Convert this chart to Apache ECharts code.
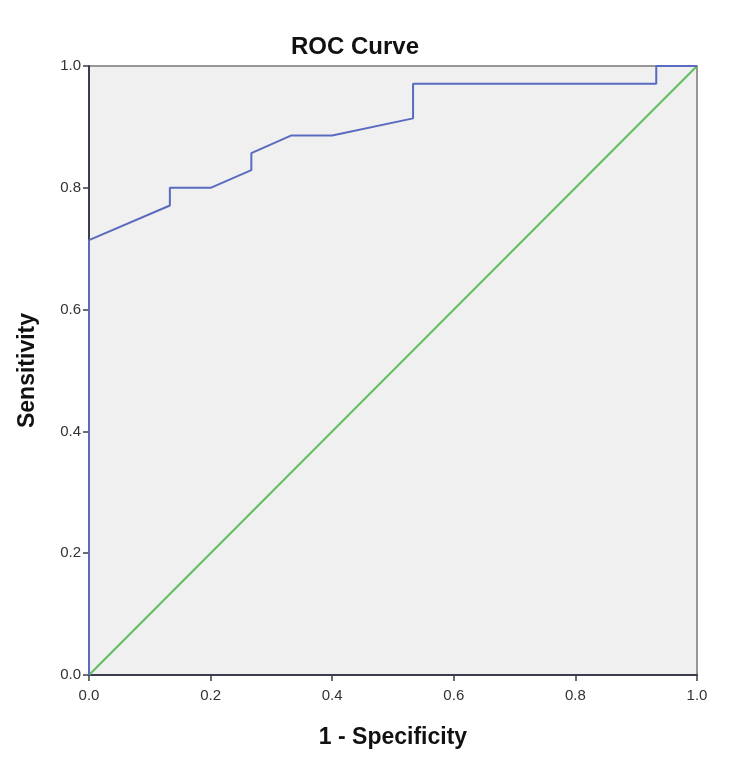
<!DOCTYPE html>
<html>
<head>
<meta charset="utf-8">
<script src="https://cdn.jsdelivr.net/npm/echarts@6/dist/echarts.min.js"></script>
<style>
  html, body { margin: 0; padding: 0; background: #fff; }
  #chart { width: 750px; height: 767px; }
</style>
</head>
<body>
<div id="chart"></div>
<script>
// ROC points (1 - specificity, sensitivity)
var fpr = [0.0, 0.0, 0.133, 0.133, 0.2, 0.267, 0.267, 0.333, 0.4, 0.533, 0.533, 0.933, 0.933, 1.0];
var tpr = [0.0, 0.714, 0.771, 0.8, 0.8, 0.829, 0.857, 0.886, 0.886, 0.914, 0.971, 0.971, 1.0, 1.0];
var refX = [0, 1];
var refY = [0, 1];
var tickLabels = ['0.0', '0.2', '0.4', '0.6', '0.8', '1.0'];

var font = 'Liberation Sans, Arial, sans-serif';

function pairs(xs, ys) {
    return xs.map(function (x, i) { return [x, ys[i]]; });
}

var charts = echarts.init(document.getElementById('chart'));
var axisCommon = {
    type: 'value',
    min: 0,
    max: 1,
    interval: 0.2,
    nameLocation: 'middle',
    nameTextStyle: { fontFamily: font, fontSize: 23, fontWeight: 'bold', color: '#111' },
    axisLine: { show: true, lineStyle: { color: '#3a3d4a', width: 2 } },
    axisTick: { show: true, length: 6, lineStyle: { color: '#3a3d4a', width: 1.5 } },
    axisLabel: {
        fontFamily: font, fontSize: 15, color: '#333',
        formatter: function (v) { return tickLabels[Math.round(v * 5)]; }
    },
    splitLine: { show: false }
};

var option = {
    backgroundColor: '#fff',
    animation: false,
    title: {
        text: 'ROC Curve',
        left: 350,
        top: 30,
        textAlign: 'center',
        textStyle: { fontFamily: font, fontSize: 24, fontWeight: 'bold', color: '#111' }
    },
    grid: {
        left: 89, right: 53, top: 66, bottom: 92,
        show: true,
        backgroundColor: '#f0f0f0',
        borderColor: '#777',
        borderWidth: 1.5
    },
    xAxis: Object.assign({}, axisCommon, {
        name: '1 - Specificity',
        nameGap: 51,
        axisLabel: Object.assign({}, axisCommon.axisLabel, { margin: 13 })
    }),
    yAxis: Object.assign({}, axisCommon, {
        name: 'Sensitivity',
        nameGap: 50,
        axisLabel: Object.assign({}, axisCommon.axisLabel, { margin: 8 })
    }),
    series: [{
        type: 'line',
        data: pairs(refX, refY),
        symbol: 'none',
        lineStyle: { color: '#5fbf5f', width: 2 },
        z: 2
    }, {
        type: 'line',
        data: pairs(fpr, tpr),
        symbol: 'none',
        lineStyle: { color: '#5a6bbf', width: 2 },
        z: 3
    }]
};

charts.setOption(option);
</script>
</body>
</html>
